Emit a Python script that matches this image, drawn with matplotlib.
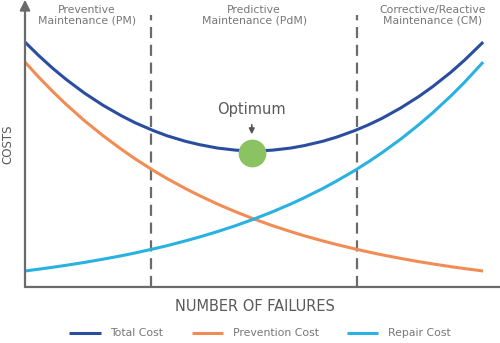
import matplotlib
matplotlib.use("Agg")
import matplotlib.pyplot as plt

# number of failures (relative scale) and cost curves
failures = [0, 3, 6, 9, 13, 17, 21, 24, 28, 31, 35, 38, 42, 46, 50,
            54, 58, 61, 65, 68, 72, 75, 78, 82, 86, 89, 93, 96, 100]
total_cost = [245.0, 231.5, 219.0, 207.6, 193.9, 181.9, 171.4, 164.4, 156.5, 151.3,
              145.8, 142.5, 139.0, 136.9, 136.0, 136.9, 139.0, 141.5, 145.8, 149.9,
              156.5, 162.3, 168.9, 179.1, 190.7, 200.5, 215.0, 227.2, 245.0]
prevention_cost = [225.0, 209.9, 195.8, 182.6, 166.3, 151.5, 137.9, 128.3, 116.6, 108.5,
                   98.5, 91.6, 83.0, 75.2, 68.0, 61.4, 55.4, 51.2, 46.1, 42.5,
                   38.1, 35.0, 32.1, 28.6, 25.3, 23.1, 20.3, 18.4, 16.0]
repair_cost = [16.0, 17.8, 19.7, 21.7, 24.6, 27.8, 31.2, 34.0, 38.1, 41.3,
               46.1, 49.9, 55.4, 61.4, 68.0, 75.2, 83.0, 89.4, 98.5, 106.0,
               116.6, 125.3, 134.6, 147.9, 162.5, 174.3, 191.3, 205.1, 225.0]

# region boundaries and the optimum point
boundaries = [27.5, 72.5]
optimum_x, optimum_y = 49.5, 134.5
regions = ["Preventive\nMaintenance (PM)",
           "Predictive\nMaintenance (PdM)",
           "Corrective/Reactive\nMaintenance (CM)"]
region_x = [13.5, 50, 89]

grey = "#6b6b6b"
text_grey = "#5a5a5a"

fig = plt.figure(figsize=(5, 3.43), dpi=100)
ax = fig.add_axes([0.05, 0.1633, 0.93, 0.813])
ax.set_xlim(0, 101.5)
ax.set_ylim(0, 279)

ax.plot(failures, total_cost, color="#2b4d9f", lw=2.2, label="Total Cost",
        solid_capstyle="butt", solid_joinstyle="round")
ax.plot(failures, prevention_cost, color="#f28c55", lw=2.2, label="Prevention Cost",
        solid_capstyle="butt", solid_joinstyle="round")
ax.plot(failures, repair_cost, color="#29b1e1", lw=2.2, label="Repair Cost",
        solid_capstyle="butt", solid_joinstyle="round")

for b in boundaries:
    ax.plot([b, b], [0, 272], color=grey, lw=1.6, dashes=(5, 3), zorder=1)

# optimum marker
ax.plot([optimum_x], [optimum_y], "o", color="#8bc262", ms=19, zorder=5)
ax.annotate("", xy=(optimum_x, 150), xytext=(optimum_x, 165),
            arrowprops=dict(arrowstyle="-|>", color="#555555", lw=1.2,
                            mutation_scale=8))
ax.text(optimum_x, 178, "Optimum", ha="center", va="center", fontsize=10.5,
        color=text_grey)

for lbl, rx in zip(regions, region_x):
    ax.text(rx, 272, lbl, ha="center", va="center", fontsize=7.8,
            color="#777777", linespacing=1.05)

# axes drawn as arrows
for s in ax.spines.values():
    s.set_visible(False)
ax.set_xticks([])
ax.set_yticks([])
ax.annotate("", xy=(1.075, 0), xytext=(0, 0), xycoords="axes fraction",
            arrowprops=dict(arrowstyle="-|>", color=grey, lw=1.6,
                            mutation_scale=15, shrinkA=0, shrinkB=0),
            annotation_clip=False)
ax.annotate("", xy=(0, 1.03), xytext=(0, 0), xycoords="axes fraction",
            arrowprops=dict(arrowstyle="-|>", color=grey, lw=1.6,
                            mutation_scale=15, shrinkA=0, shrinkB=0),
            annotation_clip=False)

fig.text(0.016, 0.58, "COSTS", rotation=90, ha="center", va="center",
         fontsize=8.5, color=text_grey)
fig.text(0.51, 0.105, "NUMBER OF FAILURES", ha="center", va="center",
         fontsize=10.5, color=text_grey)

leg = fig.legend(loc="center", bbox_to_anchor=(0.52, 0.028), ncol=3,
                 frameon=False, fontsize=7.8, handlelength=2.9,
                 columnspacing=2.6, handletextpad=0.9)
for t in leg.get_texts():
    t.set_color("#777777")

fig.savefig("out.png", dpi=100)
